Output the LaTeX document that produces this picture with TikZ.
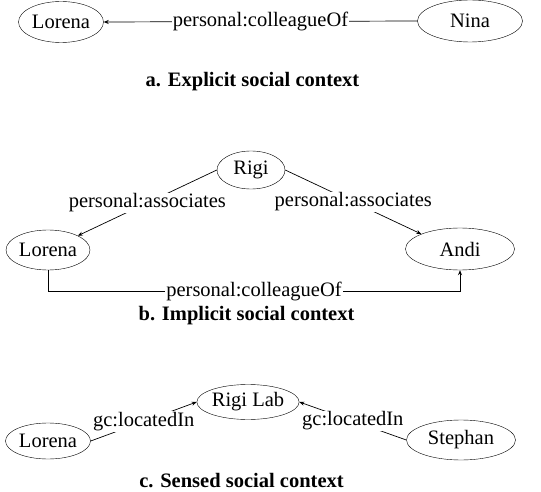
\documentclass[tikz,border=0pt]{standalone}
\usepackage{fontspec}
\setmainfont{Liberation Serif}
\usetikzlibrary{arrows.meta,shapes.geometric}
\tikzset{
  ent/.style={draw, ellipse, inner sep=0pt, font=\fontsize{20.5}{22}\selectfont},
  rel/.style={line width=0.7pt, -{Stealth[length=5pt,width=4pt]}},
  lbl/.style={fill=white, inner sep=1pt, font=\fontsize{20.5}{22}\selectfont},
  caption/.style={font=\fontsize{20.5}{22}\selectfont\bfseries}
}
\begin{document}
\begin{tikzpicture}[x=1pt,y=-1pt]
\useasboundingbox (0,0) rectangle (541,492);

% a. explicit
\node[ent, minimum width=85pt, minimum height=41pt] (aL) at (61,22) {Lorena};
\node[ent, minimum width=105pt, minimum height=42pt] (aN) at (470,21) {Nina};
\draw[rel] (aN.west) -- node[lbl] {personal:colleagueOf} (aL.east);
\node[caption] (capA) at (252.5,82) {a. Explicit social context};

% b. implicit
\node[ent, minimum width=68pt, minimum height=38pt] (bR) at (251,170) {Rigi};
\node[ent, minimum width=84pt, minimum height=40pt] (bL) at (48,250) {Lorena};
\node[ent, minimum width=109pt, minimum height=42pt] (bA) at (460,249) {Andi};
\draw[rel] (bR.west) -- node[lbl] {personal:associates} (bL.north east);
\draw[rel] (bR.east) -- node[lbl] {personal:associates} (bA.north west);
\draw[rel] (bL.south) -- ++(0,21) -| node[lbl, pos=0.25] {personal:colleagueOf} (bA.south);
\node[caption] (capB) at (246.5,316) {b. Implicit social context};

% c. sensed
\node[ent, minimum width=90pt, minimum height=35pt] (cR) at (248,402) {Rigi Lab};
\node[ent, minimum width=85pt, minimum height=36pt] (cL) at (48,441) {Lorena};
\node[ent, minimum width=109pt, minimum height=40pt] (cS) at (461,440) {Stephan};
\draw[rel] (cL.east) -- node[lbl] {gc:locatedIn} (cR.west);
\draw[rel] (cS.west) -- node[lbl] {gc:locatedIn} (cR.east);
\node[caption] (capC) at (241.5,481) {c. Sensed social context};
\end{tikzpicture}
\end{document}
